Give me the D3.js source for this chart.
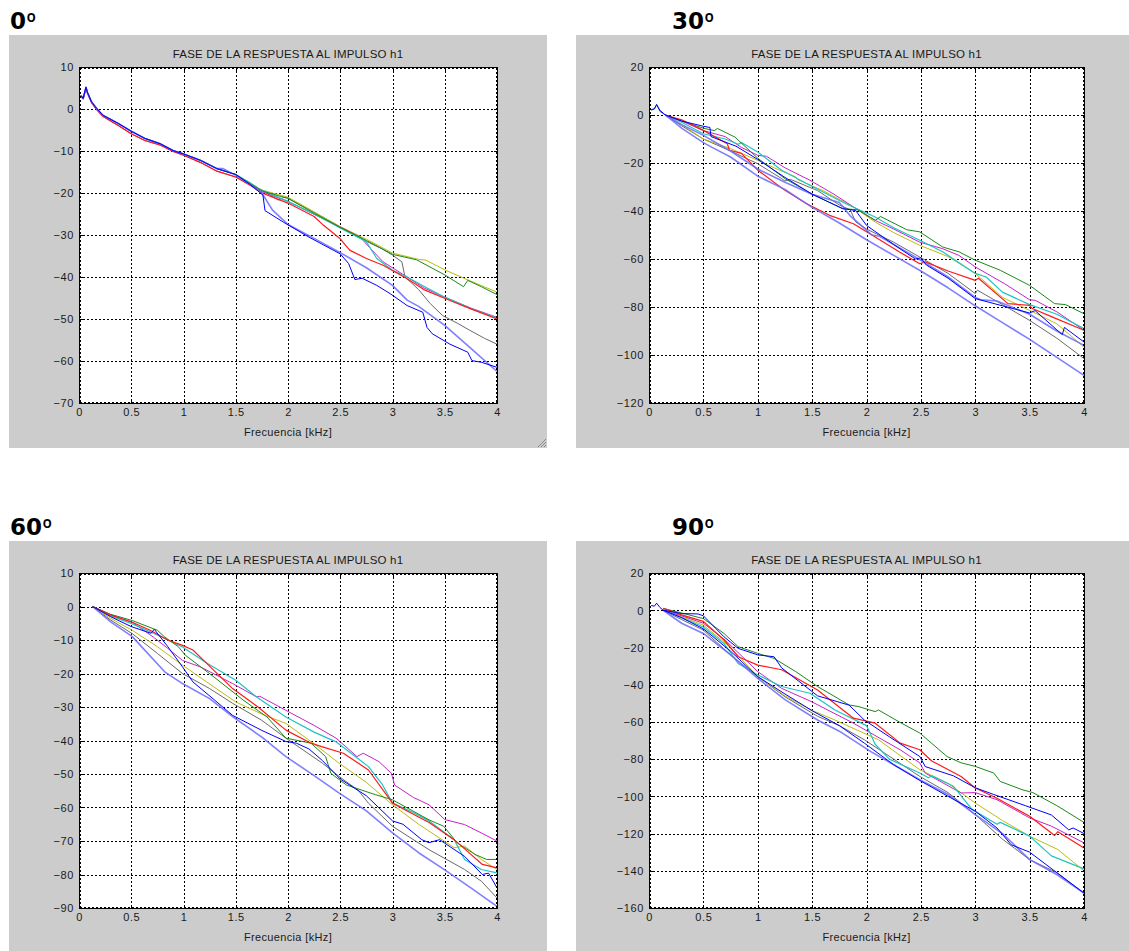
<!DOCTYPE html>
<html><head><meta charset="utf-8">
<script src="https://cdn.jsdelivr.net/npm/d3@7"></script>
<style>html,body{margin:0;padding:0;background:#fff;} svg{display:block;}</style>
</head><body>
<svg id="chart" width="1129" height="951"></svg>
<script>
// ================= DATA =================
const freqTicks = [0, 0.5, 1, 1.5, 2, 2.5, 3, 3.5, 4];
const panelLabels = ["0º", "30º", "60º", "90º"];
const chartTitle = "FASE DE LA RESPUESTA AL IMPULSO h1";
const xAxisLabel = "Frecuencia [kHz]";
const yTicks0 = [10, 0, -10, -20, -30, -40, -50, -60, -70];
const yTicks30 = [20, 0, -20, -40, -60, -80, -100, -120];
const yTicks60 = [10, 0, -10, -20, -30, -40, -50, -60, -70, -80, -90];
const yTicks90 = [20, 0, -20, -40, -60, -80, -100, -120, -140, -160];

// ---- 0º : shared start of all curves, then individual tails [kHz, phase]
const p0_head = [[0.02,3.2],[0.04,2.5],[0.067,5.2],[0.08,4],[0.12,1.7],[0.17,0.1],[0.23,-1.5],[0.38,-3.5],[0.5,-5.3],[0.63,-7],[0.78,-8.3],[0.9,-9.9],[1.0,-10.7],[1.16,-12.2],[1.32,-14.2],[1.5,-15.6]];
const p0_headLow = [[0.02,3],[0.04,2.4],[0.067,5],[0.08,3.8],[0.12,1.5],[0.17,-0.2],[0.23,-1.8],[0.38,-4],[0.5,-5.9],[0.63,-7.5],[0.78,-8.6],[0.9,-10.1],[1.0,-11],[1.16,-12.7],[1.32,-14.8],[1.5,-16.2]];
const p0_yellow = [[1.64,-17.6],[1.75,-19.3],[2.0,-21],[2.25,-24.5],[2.5,-28],[2.75,-31],[3.0,-34.3],[3.25,-35.8],[3.32,-36],[3.5,-38.3],[3.75,-41],[4.0,-43.6]];
const p0_green = [[1.64,-17.8],[1.75,-19.5],[2.0,-21.3],[2.25,-24.8],[2.5,-28.2],[2.75,-31.3],[3.0,-34.6],[3.23,-35.9],[3.5,-39.5],[3.68,-42.3],[3.72,-40.8],[3.85,-42.3],[4.0,-44.2]];
const p0_gray = [[1.64,-17.9],[1.75,-19.4],[1.91,-21.7],[1.96,-21],[2.0,-21.2],[2.25,-24.6],[2.5,-28.1],[2.75,-31.5],[2.9,-33.3],[3.0,-34.8],[3.09,-36.4],[3.12,-40],[3.25,-43],[3.36,-46.3],[3.48,-49.2],[3.62,-51],[3.74,-52.7],[3.88,-54.6],[4.0,-56]];
const p0_red = [[1.64,-18.2],[1.75,-20],[2.0,-22.4],[2.25,-25.6],[2.34,-27.7],[2.5,-30.9],[2.59,-33.6],[2.75,-35.6],[2.91,-37.2],[3.14,-40.4],[3.3,-43],[3.55,-45.6],[3.75,-47.6],[4.0,-50]];
const p0_magenta = [[1.64,-18],[1.75,-19.7],[2.0,-22],[2.25,-25.1],[2.5,-28.1],[2.69,-30.5],[2.8,-33.5],[2.91,-36.4],[3.14,-40],[3.3,-42.6],[3.5,-44.8],[3.75,-47.4],[4.0,-49.6]];
const p0_cyan = [[1.64,-17.6],[1.72,-19],[2.0,-22],[2.25,-25],[2.5,-28.3],[2.75,-31.6],[2.85,-35.6],[3.0,-38.4],[3.14,-40],[3.3,-42.2],[3.5,-44.8],[3.75,-47.5],[4.0,-49.8]];
const p0_blue = [[1.64,-18],[1.76,-20.5],[1.78,-24.2],[1.96,-27],[2.2,-30.5],[2.5,-34.5],[2.58,-36.8],[2.64,-40.6],[2.71,-40.3],[2.85,-42],[2.98,-44],[3.14,-46.8],[3.29,-48.4],[3.33,-52],[3.38,-53.5],[3.55,-56],[3.72,-57.9],[3.76,-59.9],[3.85,-60.3],[4.0,-61.5]];
const p0_lightblue = [[1.38,-14.2],[1.5,-15.8],[1.64,-18],[1.75,-20],[1.85,-24],[2.0,-27.5],[2.25,-30.8],[2.5,-34.2],[2.75,-37.8],[3.0,-42],[3.14,-45.5],[3.25,-47],[3.5,-51.5],[3.75,-57],[4.0,-62.5]];

// ---- 30º
const p30_green = [[0.02,2],[0.05,2.5],[0.07,4.3],[0.1,1.5],[0.15,0],[0.3,-2.5],[0.5,-5.5],[0.6,-6.5],[0.63,-5.6],[0.79,-9.2],[1.0,-18],[1.25,-26.5],[1.5,-33],[1.78,-39],[1.92,-39.5],[2.08,-43.9],[2.13,-42.3],[2.37,-47.8],[2.49,-48.7],[2.7,-55],[2.85,-57],[3.0,-60.5],[3.23,-64.7],[3.5,-71],[3.73,-78.6],[3.83,-79],[4.0,-82.8]];
const p30_cyan = [[0.15,0],[0.3,-3],[0.5,-7.8],[0.7,-10],[0.82,-12.2],[0.85,-11.5],[1.0,-15.4],[1.22,-23],[1.48,-29.3],[1.81,-37],[2.08,-42.5],[2.25,-47],[2.49,-52.2],[2.7,-57],[3.0,-66],[3.1,-67.5],[3.25,-73.8],[3.5,-79],[3.75,-83],[4.0,-89]];
const p30_magenta = [[0.15,0],[0.3,-2.5],[0.5,-6.5],[0.7,-9],[0.85,-13.5],[1.0,-16.8],[1.08,-17.2],[1.25,-22],[1.48,-27.2],[1.7,-33],[1.88,-38.3],[2.08,-43.9],[2.25,-47.5],[2.49,-53],[2.7,-55.7],[2.85,-58.5],[3.0,-63.3],[3.27,-70.3],[3.5,-77],[3.55,-77.2],[3.75,-82],[4.0,-89.7]];
const p30_yellow = [[0.15,0],[0.3,-4],[0.5,-10],[0.75,-14],[1.0,-18.9],[1.2,-23],[1.35,-25.8],[1.37,-27],[1.6,-31.5],[1.88,-38.3],[2.08,-44.6],[2.25,-49],[2.49,-54.3],[2.75,-59],[3.0,-66],[3.25,-76],[3.5,-81.4],[3.75,-87],[4.0,-96.7]];
const p30_red = [[0.15,0],[0.3,-2],[0.5,-6.4],[0.72,-12],[0.74,-14.7],[0.85,-16],[1.0,-23],[1.25,-31.4],[1.45,-37],[1.66,-41.8],[1.88,-45.3],[2.08,-50.8],[2.3,-57],[2.49,-62],[2.54,-61.2],[2.75,-65],[3.0,-68.9],[3.03,-68],[3.3,-78.6],[3.5,-79.3],[3.52,-80.5],[3.7,-84],[4.0,-89.7]];
const p30_gray = [[0.15,0],[0.3,-4.5],[0.5,-10],[0.75,-15],[1.0,-20.3],[1.22,-26.5],[1.25,-27.5],[1.3,-26.8],[1.55,-31.5],[1.75,-37.5],[1.85,-39.5],[1.9,-44.5],[2.0,-47.5],[2.25,-53],[2.49,-59.2],[2.75,-66],[3.0,-74.4],[3.02,-73],[3.25,-79],[3.5,-85.6],[3.75,-93],[4.0,-101.5]];
const p30_blue = [[0.02,2.2],[0.05,2.6],[0.07,4.4],[0.1,2],[0.15,0],[0.3,-2.5],[0.5,-4.7],[0.56,-5.2],[0.57,-9],[0.8,-13],[1.0,-18.5],[1.25,-26],[1.5,-33],[1.78,-39],[1.9,-39.8],[2.0,-46],[2.25,-54],[2.45,-60],[2.5,-59.5],[2.55,-62.5],[2.75,-68],[3.0,-76.5],[3.25,-79.5],[3.5,-82.5],[3.55,-81.5],[3.75,-89.5],[3.8,-91.5],[3.82,-88.5],[4.0,-94.6]];
const p30_lightblue = [[0.15,0],[0.3,-4],[0.5,-8.5],[0.75,-15],[1.0,-22.5],[1.25,-28],[1.5,-33],[1.75,-36.5],[1.85,-42],[2.0,-48],[2.05,-50],[2.12,-50.5],[2.5,-60.5],[2.75,-67.5],[3.0,-76],[3.05,-77],[3.2,-77.5],[3.5,-83],[3.75,-90],[4.0,-96]];
const p30_lightblue2 = [[0.15,0],[0.3,-5.5],[0.5,-11.5],[0.58,-13.5],[0.75,-17.5],[1.0,-25.5],[1.25,-31],[1.5,-38.5],[1.75,-45],[2.0,-52],[2.25,-58.5],[2.5,-65],[2.75,-72],[3.0,-79.5],[3.25,-86.5],[3.5,-93.5],[3.75,-101],[4.0,-108.5]];

// ---- 60º
const p60_magenta = [[0.13,0],[0.3,-2.5],[0.51,-4.7],[0.71,-9.1],[0.85,-12.5],[0.99,-16.1],[1.16,-18],[1.47,-23],[1.7,-27],[1.73,-26.8],[1.98,-31],[2.25,-35.5],[2.46,-39.3],[2.66,-44.8],[2.72,-43.8],[2.87,-46.3],[2.99,-49.8],[3.02,-53.3],[3.2,-57],[3.35,-59.2],[3.5,-63.6],[3.69,-65.1],[3.85,-67.6],[4.0,-70]];
const p60_cyan = [[0.13,0],[0.3,-2.8],[0.51,-5.2],[0.75,-8.5],[0.99,-12.1],[1.23,-17],[1.5,-22],[1.7,-27],[1.98,-33],[2.25,-37.5],[2.46,-40.4],[2.77,-47.8],[2.9,-53],[3.0,-58.7],[3.2,-61.5],[3.35,-64],[3.59,-69.6],[3.69,-75.5],[3.85,-78.5],[4.0,-79.5]];
const p60_red = [[0.13,0],[0.3,-2.5],[0.51,-4.7],[0.68,-7.1],[0.85,-10],[0.99,-11.6],[1.09,-13],[1.19,-16],[1.47,-24.5],[1.71,-29.9],[1.98,-36.9],[2.22,-40.8],[2.33,-41.9],[2.53,-43.8],[2.77,-48.8],[3.0,-58.7],[3.2,-62],[3.35,-64.5],[3.59,-69.6],[3.75,-74],[3.86,-77],[4.0,-78]];
const p60_green = [[0.13,0],[0.3,-2.3],[0.51,-4.2],[0.75,-7.1],[0.82,-9.1],[0.95,-12],[1.02,-14.6],[1.29,-21],[1.57,-27.9],[1.8,-33],[1.98,-39.3],[2.22,-40.8],[2.36,-44.8],[2.41,-49.8],[2.56,-53.3],[2.84,-56.2],[3.0,-57.7],[3.35,-63.7],[3.49,-65.6],[3.62,-70.6],[3.79,-74],[3.9,-75.5],[4.0,-75.5]];
const p60_yellow = [[0.13,0],[0.3,-3.5],[0.51,-7.1],[0.75,-12],[0.99,-17.5],[1.29,-24],[1.5,-28.5],[1.77,-32.4],[1.98,-34.9],[2.25,-41],[2.49,-46.8],[2.75,-52.5],[3.0,-59.2],[3.25,-65],[3.59,-72],[3.69,-71.5],[3.85,-75.5],[4.0,-78.5]];
const p60_gray = [[0.13,0],[0.3,-4],[0.51,-8.1],[0.75,-14],[0.99,-20],[1.25,-24.5],[1.47,-28.9],[1.75,-34],[1.98,-39.3],[2.33,-46.8],[2.5,-51],[2.67,-54.8],[2.77,-58.7],[3.0,-65.6],[3.35,-72.6],[3.69,-78.5],[3.85,-82],[4.0,-87]];
const p60_blue = [[0.13,0],[0.3,-3],[0.5,-6],[0.69,-8],[0.72,-6.8],[0.85,-12],[0.99,-18],[1.09,-22.5],[1.3,-28],[1.47,-32.5],[1.75,-37],[1.98,-40.3],[2.08,-40.8],[2.2,-42.5],[2.33,-46],[2.5,-51.5],[2.75,-56.5],[3.0,-64],[3.1,-65],[3.28,-69.6],[3.35,-70.5],[3.45,-69.6],[3.69,-74.6],[3.86,-80],[3.92,-79.6],[4.0,-84]];
const p60_lightblue = [[0.13,0],[0.3,-4.5],[0.51,-9],[0.82,-19.5],[0.99,-23],[1.25,-27.5],[1.47,-32.9],[1.75,-39],[1.98,-44.8],[2.25,-50.5],[2.49,-55.7],[2.75,-61],[3.0,-67.6],[3.25,-73.5],[3.5,-78.6],[3.75,-84],[4.0,-89.5]];

// ---- 90º
const p90_green = [[0.13,1],[0.3,-1.5],[0.5,-4.5],[0.69,-12.5],[0.82,-19.6],[1.0,-23.2],[1.15,-25.9],[1.35,-33],[1.55,-41],[1.84,-50.9],[1.93,-51.8],[2.08,-54.5],[2.11,-53.6],[2.3,-60],[2.49,-66],[2.74,-78.6],[2.87,-82],[3.0,-83.9],[3.17,-87.5],[3.23,-92],[3.43,-96.4],[3.53,-98],[3.75,-105],[4.0,-114]];
const p90_blue = [[0.02,2.5],[0.05,2.2],[0.07,3.8],[0.1,1.5],[0.13,0],[0.3,-1.8],[0.45,-2],[0.5,-3],[0.69,-14.3],[0.82,-20.5],[1.0,-24],[1.15,-25],[1.22,-31],[1.55,-46],[1.84,-51],[1.98,-59],[2.21,-68],[2.49,-78.6],[2.54,-84],[2.8,-89],[3.0,-95.4],[3.17,-99],[3.46,-105],[3.7,-110],[3.86,-118],[3.9,-117],[4.0,-120]];
const p90_red = [[0.13,1],[0.3,-2.5],[0.5,-6],[0.69,-16],[0.82,-25],[1.0,-29.5],[1.22,-32],[1.55,-42.9],[1.88,-58],[2.08,-60.7],[2.31,-71.4],[2.49,-75],[2.6,-81],[2.87,-89.3],[3.0,-95.5],[3.2,-101],[3.5,-110.7],[3.73,-121],[3.76,-119],[4.0,-127.7]];
const p90_magenta = [[0.13,0],[0.3,-3],[0.5,-7],[0.7,-16],[1.0,-33],[1.22,-42],[1.49,-49],[1.88,-60.7],[2.31,-75],[2.49,-82],[2.54,-87.5],[2.87,-98.2],[3.0,-98],[3.2,-101.8],[3.5,-111.6],[3.7,-116],[4.0,-125]];
const p90_cyan = [[0.13,0],[0.3,-4],[0.5,-9],[0.69,-18],[0.82,-28.6],[1.0,-34.8],[1.22,-41],[1.48,-44.6],[1.71,-53.6],[2.0,-62],[2.08,-72],[2.21,-80],[2.49,-87.5],[2.57,-90],[2.6,-89],[2.8,-94.6],[2.97,-107],[3.2,-115],[3.23,-114],[3.5,-121.4],[3.7,-132],[4.0,-139]];
const p90_yellow = [[0.13,0],[0.3,-3.5],[0.5,-8],[0.75,-20],[1.0,-35.7],[1.25,-46],[1.49,-53.6],[1.71,-59],[2.11,-69.6],[2.49,-85.7],[2.75,-93],[3.0,-103.6],[3.25,-113],[3.5,-121.4],[3.76,-128.6],[4.0,-140]];
const p90_gray = [[0.13,0],[0.3,-5],[0.5,-10.7],[0.75,-24],[1.0,-35.7],[1.25,-46.5],[1.55,-57],[1.75,-62],[1.98,-69.6],[2.25,-80],[2.49,-89.3],[2.75,-98],[3.0,-109.8],[3.25,-123],[3.5,-134],[3.75,-141],[4.0,-152]];
const p90_lightblue = [[0.13,0],[0.3,-7],[0.5,-12.5],[0.75,-24],[1.0,-36.6],[1.25,-48],[1.55,-59],[1.75,-65],[2.04,-76],[2.25,-83],[2.49,-91],[2.75,-99],[3.0,-109.8],[3.25,-120],[3.5,-134],[3.75,-142],[4.0,-152]];
const p90_blue2 = [[0.13,0],[0.3,-4],[0.5,-10],[0.75,-22],[1.0,-35.7],[1.25,-45],[1.5,-54],[1.75,-62],[1.98,-71.4],[2.25,-83],[2.49,-91.5],[2.75,-100],[3.0,-108],[3.2,-117],[3.33,-126],[3.5,-130],[3.75,-141],[4.0,-152]];

// ================= STYLE / LAYOUT =================
const COL = {
  blue: "#0000ff", lightblue: "#6a6aff", green: "#1a8a1a", red: "#ff1a1a",
  cyan: "#20c4c4", magenta: "#c822c8", yellow: "#bcbc10", gray: "#6a6a6a"
};
const WIDTH = {lightblue: 1.6, red: 1.2, cyan: 1.2};

const panels = [
  { label: panelLabels[0], lx: 10, ly: 29, bg: [9,35,538,413], plot: [79,67,418,336], yDomain: [-70,10], yTicks: yTicks0, grip: true,
    series: [["gray", p0_head.concat(p0_gray)], ["yellow", p0_head.concat(p0_yellow)], ["magenta", p0_headLow.concat(p0_magenta)],
             ["cyan", p0_head.concat(p0_cyan)], ["green", p0_head.concat(p0_green)], ["red", p0_headLow.concat(p0_red)],
             ["lightblue", p0_head.slice(0,15).concat(p0_lightblue)], ["blue", p0_head.concat(p0_blue)]] },
  { label: panelLabels[1], lx: 672, ly: 29, bg: [576,35,570,413], plot: [649,67,435,336], yDomain: [-120,20], yTicks: yTicks30, grip: false,
    series: [["gray", p30_gray], ["yellow", p30_yellow], ["magenta", p30_magenta], ["cyan", p30_cyan], ["green", p30_green],
             ["red", p30_red], ["lightblue", p30_lightblue2], ["lightblue", p30_lightblue], ["blue", p30_blue]] },
  { label: panelLabels[2], lx: 10, ly: 535, bg: [9,541,538,420], plot: [79,573,418,335], yDomain: [-90,10], yTicks: yTicks60, grip: true,
    series: [["gray", p60_gray], ["yellow", p60_yellow], ["magenta", p60_magenta], ["cyan", p60_cyan], ["green", p60_green],
             ["red", p60_red], ["lightblue", p60_lightblue], ["blue", p60_blue]] },
  { label: panelLabels[3], lx: 672, ly: 535, bg: [576,541,570,420], plot: [649,573,435,335], yDomain: [-160,20], yTicks: yTicks90, grip: false,
    series: [["gray", p90_gray], ["yellow", p90_yellow], ["magenta", p90_magenta], ["cyan", p90_cyan], ["green", p90_green],
             ["red", p90_red], ["lightblue", p90_lightblue], ["blue", p90_blue2], ["blue", p90_blue]] }
];

const svg = d3.select("#chart");
svg.append("rect").attr("width",1129).attr("height",951).attr("fill","#fff");
const FONT = "'Liberation Sans', Arial, Helvetica, sans-serif";

panels.forEach((p, i) => {
  const [bx,by,bw,bh] = p.bg;
  const [px,py,pw,ph] = p.plot;
  const g = svg.append("g");
  g.append("rect").attr("x",bx).attr("y",by).attr("width",bw).attr("height",bh).attr("fill","#cccccc");

  if (p.grip) {
    const gx = bx + bw, gy = by + bh;
    [3,6,9].forEach(k => g.append("line").attr("x1",gx-1).attr("y1",gy-k).attr("x2",gx-k).attr("y2",gy-1)
      .attr("stroke","#8a8a8a").attr("stroke-width",1));
  }

  const lab = g.append("text").attr("x",p.lx).attr("y",p.ly)
    .attr("font-family","'DejaVu Sans', Verdana, sans-serif").attr("font-weight","bold").attr("font-size",23).attr("fill","#000");
  lab.append("tspan").text(p.label.slice(0, -1));
  lab.append("tspan").attr("font-family","Roboto").attr("font-weight","bold").text(p.label.slice(-1));

  const x = d3.scaleLinear().domain([0,4]).range([px, px+pw]);
  const y = d3.scaleLinear().domain(p.yDomain).range([py+ph, py]);

  g.append("rect").attr("x",px).attr("y",py).attr("width",pw).attr("height",ph).attr("fill","#fff");

  const clipId = "clip" + i;
  g.append("clipPath").attr("id",clipId).append("rect").attr("x",px).attr("y",py).attr("width",pw+1).attr("height",ph+1);

  const grid = g.append("g").attr("shape-rendering","crispEdges");
  freqTicks.forEach(t => {
    const xx = Math.round(x(t)) + 0.5;
    grid.append("line").attr("x1",xx).attr("x2",xx).attr("y1",py).attr("y2",py+ph)
      .attr("stroke","#000").attr("stroke-width",1).attr("stroke-dasharray","2,2");
  });
  p.yTicks.forEach(t => {
    const yy = Math.round(y(t)) + 0.5;
    grid.append("line").attr("x1",px).attr("x2",px+pw).attr("y1",yy).attr("y2",yy)
      .attr("stroke","#000").attr("stroke-width",1).attr("stroke-dasharray","2,2");
  });

  const line = d3.line().x(d => x(d[0])).y(d => y(d[1]));
  const sg = g.append("g").attr("clip-path",`url(#${clipId})`);
  p.series.forEach(([c, data]) => {
    sg.append("path").datum(data).attr("d", line).attr("fill","none")
      .attr("stroke", COL[c]).attr("stroke-width", WIDTH[c] || 1).attr("stroke-linejoin","round")
      .attr("stroke-opacity", c === "lightblue" ? 0.85 : 1);
  });

  const L = Math.round(x(0)) + 0.5, R = Math.round(x(4)) + 0.5, T = Math.round(y(p.yDomain[1])) + 0.5, B = Math.round(y(p.yDomain[0])) + 0.5;
  const box = g.append("g").attr("shape-rendering","crispEdges").attr("stroke","#000").attr("stroke-width",1);
  box.append("rect").attr("x",L).attr("y",T).attr("width",R-L).attr("height",B-T).attr("fill","none");
  box.append("line").attr("x1",L).attr("x2",R).attr("y1",T+1).attr("y2",T+1).attr("stroke-dasharray","2,2");
  box.append("line").attr("x1",L).attr("x2",R).attr("y1",B-1).attr("y2",B-1).attr("stroke-dasharray","2,2");
  box.append("line").attr("x1",L+1).attr("x2",L+1).attr("y1",T).attr("y2",B).attr("stroke-dasharray","2,2");
  box.append("line").attr("x1",R-1).attr("x2",R-1).attr("y1",T).attr("y2",B).attr("stroke-dasharray","2,2");

  freqTicks.forEach(t => {
    const xx = Math.round(x(t)) + 0.5;
    box.append("line").attr("x1",xx).attr("x2",xx).attr("y1",B).attr("y2",B-4);
    box.append("line").attr("x1",xx).attr("x2",xx).attr("y1",T).attr("y2",T+4);
  });
  p.yTicks.forEach(t => {
    const yy = Math.round(y(t)) + 0.5;
    box.append("line").attr("x1",L).attr("x2",L+4).attr("y1",yy).attr("y2",yy);
    box.append("line").attr("x1",R).attr("x2",R-4).attr("y1",yy).attr("y2",yy);
  });

  const xAxis = d3.axisBottom(x).tickValues(freqTicks).tickFormat(d3.format("")).tickSize(0).tickPadding(0);
  const xa = g.append("g").attr("transform",`translate(0,${py+ph+5})`).call(xAxis);
  const yAxis = d3.axisLeft(y).tickValues(p.yTicks).tickFormat(d3.format("")).tickSize(0).tickPadding(0);
  const ya = g.append("g").attr("transform",`translate(${px-5},0)`).call(yAxis);
  [xa, ya].forEach(a => {
    a.select(".domain").remove();
    a.selectAll("text").attr("font-family",FONT).attr("font-size",11).attr("letter-spacing",0.6).attr("fill","#1a1a1a");
  });
  ya.selectAll("text").attr("dy","0.35em");

  g.append("text").attr("x",px+pw/2).attr("y",py-9).attr("text-anchor","middle").text(chartTitle)
    .attr("font-family",FONT).attr("font-size",11.5).attr("letter-spacing",0.2).attr("fill","#1a1a1a");
  g.append("text").attr("x",px+pw/2).attr("y",py+ph+33).attr("text-anchor","middle").text(xAxisLabel)
    .attr("font-family",FONT).attr("font-size",11).attr("letter-spacing",0.35).attr("fill","#1a1a1a");
});
</script>
</body></html>
